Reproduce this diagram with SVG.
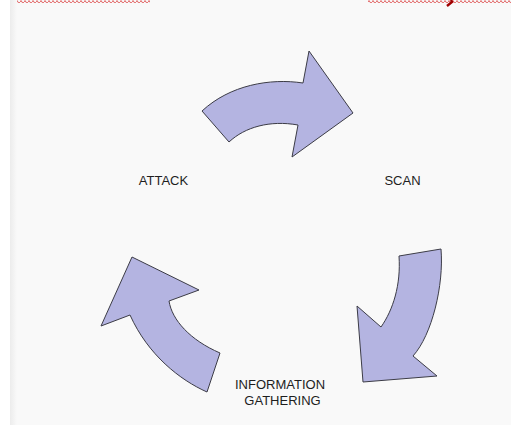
<svg xmlns="http://www.w3.org/2000/svg" width="511" height="425" viewBox="0 0 511 425">
  <defs>
    <linearGradient id="edge" x1="0" y1="0" x2="1" y2="0">
      <stop offset="0" stop-color="#ececec"/>
      <stop offset="1" stop-color="#f9f9f9"/>
    </linearGradient>
    <pattern id="wave" x="0" y="0" width="4" height="4" patternUnits="userSpaceOnUse">
      <path d="M0,2 L1,0.5 L2,2 L3,3.5 L4,2" fill="none" stroke="#e06060" stroke-width="1"/>
    </pattern>
  </defs>
  <style>
    .arrow { fill: #b4b4e1; stroke: #3c3c46; stroke-width: 1; stroke-linejoin: round; }
    .label { font-family: "Liberation Sans", Arial, sans-serif; font-size: 13px; fill: #1e1e1e; text-anchor: middle; }
  </style>
  <rect x="0" y="0" width="511" height="425" fill="#ffffff"/>
  <rect x="10" y="0" width="501" height="425" fill="#f9f9f9"/>
  <rect x="10" y="0" width="7" height="425" fill="url(#edge)"/>
  <rect x="17" y="0" width="133" height="3" fill="url(#wave)"/>
  <rect x="368" y="0" width="143" height="3" fill="url(#wave)"/>
  <path d="M451,0 L452,2 L447,6" fill="none" stroke="#a00000" stroke-width="2.5"/>

  <g id="node-top-arrow">
    <path class="arrow" d="M202,111 C230,85 270,78 303,83 L309,51 L353,113 L292,157 L298,125 C270,120 245,127 229,142 Z"/>
  </g>
  <g id="node-right-arrow">
    <path class="arrow" d="M399,256 L441,249 C444,285 432,335 413,356 L437,376 L363,382 L357,306 L381,327 C393,310 401,285 399,256 Z"/>
  </g>
  <g id="node-left-arrow">
    <path class="arrow" d="M132,257 L199,290 L169,301 C172,320 190,340 220,353 L207,392 C180,380 148,355 130,315 L101,326 Z"/>
  </g>

  <g id="node-attack"><text class="label" x="163.5" y="185">ATTACK</text></g>
  <g id="node-scan"><text class="label" x="402.5" y="185">SCAN</text></g>
  <g id="node-info">
    <text class="label" x="280" y="389">INFORMATION</text>
    <text class="label" x="282.5" y="405">GATHERING</text>
  </g>
  <g id="connectors"></g>
</svg>
